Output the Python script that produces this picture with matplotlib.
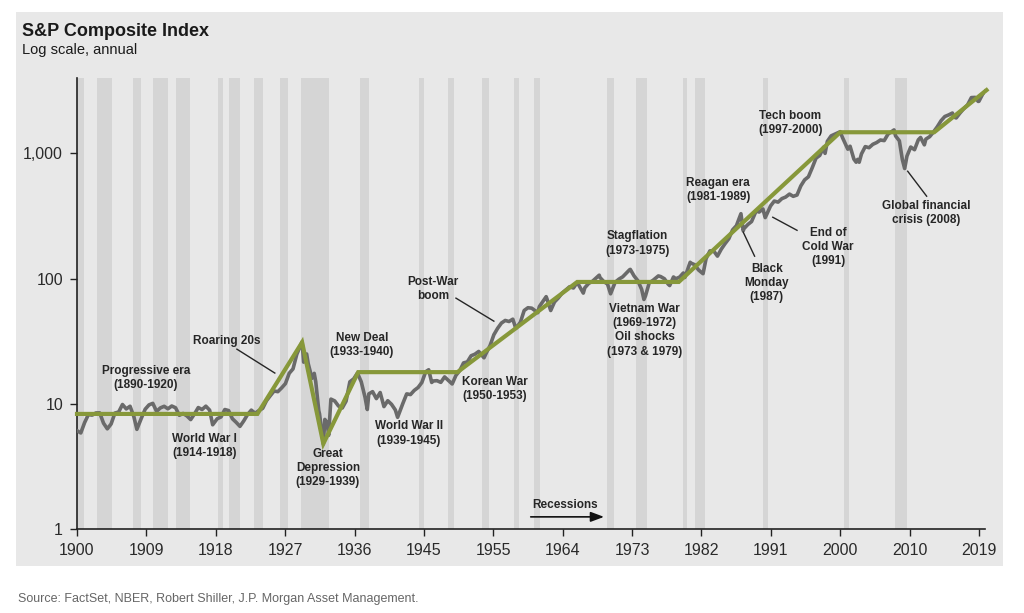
import numpy as np
import matplotlib
matplotlib.use("Agg")
import matplotlib.pyplot as plt
from matplotlib.patches import Rectangle

# ---------------- data ----------------
years = [1900.0, 1900.5, 1901.0, 1901.5, 1902.0, 1902.5, 1903.0, 1903.5, 1904.0, 1904.5,
         1905.0, 1905.5, 1906.0, 1906.5, 1907.0, 1907.5, 1907.9, 1908.5, 1909.0, 1909.5,
         1910.0, 1910.5, 1911.0, 1911.5, 1912.0, 1912.5, 1913.0, 1913.5, 1914.0, 1914.5,
         1915.0, 1915.5, 1916.0, 1916.5, 1917.0, 1917.5, 1917.9, 1918.5, 1919.0, 1919.5,
         1920.0, 1920.5, 1921.0, 1921.5, 1922.0, 1922.5, 1923.0, 1923.5, 1924.0, 1924.5,
         1925.0, 1925.5, 1926.0, 1926.5, 1927.0, 1927.5, 1928.0, 1928.5, 1929.0, 1929.7,
         1929.9, 1930.3, 1930.5, 1931.0, 1931.3, 1931.5, 1931.9, 1932.0, 1932.5, 1932.7,
         1933.0, 1933.2, 1933.5, 1934.0, 1934.5, 1935.0, 1935.5, 1936.0, 1936.5, 1937.0,
         1937.5, 1938.0, 1938.3, 1938.5, 1939.0, 1939.5, 1940.0, 1940.5, 1941.0, 1941.5,
         1942.0, 1942.3, 1943.0, 1943.5, 1944.0, 1944.5, 1945.0, 1945.5, 1946.0, 1946.4,
         1946.8, 1947.0, 1947.5, 1948.0, 1948.5, 1949.0, 1949.5, 1950.0, 1950.5, 1951.0,
         1951.5, 1952.0, 1952.5, 1953.0, 1953.7, 1954.0, 1954.5, 1955.0, 1955.5, 1956.0,
         1956.5, 1957.0, 1957.5, 1957.9, 1958.5, 1959.0, 1959.5, 1960.0, 1960.8, 1961.0,
         1961.9, 1962.0, 1962.5, 1963.0, 1963.5, 1964.0, 1964.5, 1965.0, 1965.5, 1966.0,
         1966.8, 1967.0, 1967.5, 1968.0, 1968.9, 1969.0, 1969.5, 1970.0, 1970.4, 1971.0,
         1971.5, 1972.0, 1972.9, 1973.0, 1973.5, 1974.0, 1974.5, 1974.8, 1975.0, 1975.5,
         1976.0, 1976.7, 1977.0, 1977.5, 1978.0, 1978.2, 1978.7, 1979.0, 1979.5, 1980.0,
         1980.2, 1980.9, 1981.0, 1981.5, 1982.0, 1982.6, 1983.0, 1983.5, 1984.0, 1984.5,
         1985.0, 1985.5, 1986.0, 1986.5, 1987.0, 1987.6, 1987.9, 1988.0, 1988.5, 1989.0,
         1989.6, 1990.0, 1990.5, 1990.8, 1991.0, 1991.5, 1992.0, 1992.5, 1993.0, 1993.5,
         1994.0, 1994.5, 1995.0, 1995.5, 1996.0, 1996.5, 1997.0, 1997.5, 1998.0, 1998.5,
         1998.7, 1999.0, 1999.5, 2000.0, 2000.7, 2001.0, 2001.7, 2002.0, 2002.5, 2002.8,
         2003.0, 2003.2, 2003.5, 2004.0, 2004.5, 2005.0, 2005.5, 2006.0, 2006.5, 2007.0,
         2007.8, 2008.0, 2008.5, 2008.9, 2009.2, 2009.5, 2010.0, 2010.5, 2011.0, 2011.3,
         2011.8, 2012.0, 2012.5, 2013.0, 2013.5, 2014.0, 2014.5, 2015.0, 2015.5, 2015.7,
         2016.0, 2016.5, 2017.0, 2017.5, 2018.0, 2018.5, 2018.9, 2019.0, 2019.5, 2019.9]
index_values = [6.10, 5.85, 7.07, 8.20, 8.12, 8.45, 8.46, 7.00, 6.31, 6.90,
                8.43, 8.60, 9.87, 9.10, 9.56, 7.90, 6.25, 7.70, 9.06, 9.80,
                10.08, 8.70, 9.27, 9.55, 9.12, 9.60, 9.30, 8.10, 8.37, 8.00,
                7.48, 8.30, 9.33, 9.00, 9.57, 8.90, 6.80, 7.60, 7.85, 9.00,
                8.83, 7.60, 7.11, 6.60, 7.30, 8.20, 8.90, 8.40, 8.83, 9.20,
                10.58, 11.60, 12.65, 12.50, 13.40, 14.50, 17.53, 19.00, 24.86, 31.30,
                21.50, 25.00, 21.00, 15.98, 17.50, 15.00, 8.80, 8.30, 4.77, 7.50,
                7.09, 5.60, 10.90, 10.54, 9.60, 9.26, 10.50, 14.98, 15.80, 17.59,
                15.00, 11.30, 9.00, 12.00, 12.50, 11.00, 12.30, 9.50, 10.58, 9.90,
                8.93, 7.80, 10.09, 12.00, 11.85, 12.80, 13.49, 14.80, 18.02, 18.70,
                14.80, 15.21, 15.30, 14.83, 16.40, 15.36, 14.40, 16.88, 18.40, 21.21,
                21.60, 24.19, 24.90, 26.18, 23.30, 25.46, 29.20, 35.60, 40.10, 44.15,
                46.30, 45.43, 47.40, 40.00, 44.80, 55.62, 58.50, 58.03, 53.40, 59.72,
                71.70, 69.07, 55.60, 65.06, 70.00, 76.45, 81.10, 86.12, 84.10, 93.32,
                76.60, 84.45, 91.40, 95.04, 106.50, 102.04, 94.70, 90.31, 75.60, 93.49,
                99.00, 103.30, 117.50, 118.42, 105.00, 96.11, 82.00, 68.12, 72.56, 92.50,
                96.86, 105.00, 103.81, 99.70, 90.25, 88.00, 103.00, 99.71, 102.70, 110.87,
                102.10, 135.00, 132.97, 129.10, 117.28, 109.40, 144.27, 166.40, 166.39, 151.10,
                171.61, 190.00, 208.19, 245.00, 264.51, 329.80, 241.00, 250.48, 270.00, 285.40,
                346.60, 339.97, 360.00, 307.00, 325.49, 380.00, 416.08, 408.00, 435.23, 448.00,
                472.99, 454.00, 465.25, 550.00, 614.42, 650.00, 766.22, 915.00, 963.36, 1120.00,
                1000.00, 1248.77, 1380.00, 1425.59, 1490.00, 1335.63, 1080.00, 1140.21, 900.00, 850.00,
                895.84, 850.00, 990.00, 1132.52, 1110.00, 1181.41, 1220.00, 1278.72, 1265.00, 1424.16,
                1540.00, 1378.76, 1260.00, 890.00, 757.00, 950.00, 1123.58, 1070.00, 1282.62, 1340.00,
                1170.00, 1300.58, 1360.00, 1480.40, 1630.00, 1822.36, 1970.00, 2028.18, 2100.00, 1950.00,
                1918.60, 2100.00, 2275.12, 2440.00, 2789.80, 2800.00, 2600.00, 2607.39, 2980.00, 3176.75]

trend_years = [1900.0, 1923.8, 1929.7, 1932.5, 1937.1, 1950.2, 1966.0, 1979.4, 2000.7, 2013.1, 2020.0]
trend_values = [8.3, 8.3, 31.0, 4.8, 17.9, 17.9, 94.0, 94.0, 1475.0, 1475.0, 3200.0]

recession_starts = [1899.5, 1902.7, 1907.4, 1910.0, 1913.0, 1918.6, 1920.0, 1923.4, 1926.8, 1929.6,
                    1937.4, 1945.1, 1948.9, 1953.5, 1957.6, 1960.3, 1969.9, 1973.8, 1980.0, 1981.5,
                    1990.5, 2001.2, 2007.9]
recession_ends = [1900.9, 1904.6, 1908.5, 1912.0, 1914.9, 1919.2, 1921.5, 1924.5, 1927.9, 1933.2,
                  1938.5, 1945.8, 1949.8, 1954.4, 1958.3, 1961.1, 1970.9, 1975.2, 1980.5, 1982.9,
                  1991.2, 2001.9, 2009.5]

x_tick_labels = ["1900", "1909", "1918", "1927", "1936", "1945", "1955", "1964",
                 "1973", "1982", "1991", "2000", "2010", "2019"]
y_tick_values = [1, 10, 100, 1000]
y_tick_labels = ["1", "10", "100", "1,000"]

# annotations: (text, year, value)
labels = [
    ("Progressive era\n(1890-1920)", 1909.1, 16.0),
    ("Roaring 20s", 1919.8, 31.7),
    ("New Deal\n(1933-1940)", 1937.6, 29.4),
    ("World War I\n(1914-1918)", 1916.8, 4.6),
    ("Great\nDepression\n(1929-1939)", 1933.1, 3.07),
    ("World War II\n(1939-1945)", 1943.8, 5.8),
    ("Korean War\n(1950-1953)", 1955.1, 13.1),
    ("Post-War\nboom", 1947.0, 82.3),
    ("Stagflation\n(1973-1975)", 1973.9, 191.0),
    ("Vietnam War\n(1969-1972)\nOil shocks\n(1973 & 1979)", 1974.9, 38.7),
    ("Reagan era\n(1981-1989)", 1984.6, 508.0),
    ("Tech boom\n(1997-2000)", 1994.1, 1740.0),
    ("Black\nMonday\n(1987)", 1991.0, 91.9),
    ("End of\nCold War\n(1991)", 1999.1, 178.0),
    ("Global financial\ncrisis (2008)", 2012.1, 333.0),
]
leaders = [
    ((1921.1, 27.3), (1926.1, 17.6)),
    ((1950.0, 69.8), (1955.0, 45.7)),
    ((1989.4, 151.0), (1987.9, 235.0)),
    ((1995.0, 243.0), (1991.8, 309.0)),
    ((2012.1, 455.0), (2009.6, 720.0)),
]

plt.rcParams["font.family"] = ["Liberation Sans", "DejaVu Sans"]

W, H = 1024, 613
fig = plt.figure(figsize=(W / 100, H / 100), dpi=100, facecolor="white")

# gray panel (behind everything)
fig.patches.append(Rectangle((16 / W, 1 - 566 / H), (1003 - 16) / W, (566 - 12) / H,
                             transform=fig.transFigure, facecolor="#e8e8e8",
                             edgecolor="none", zorder=-10))

ax_left, ax_right, ax_top, ax_bottom = 77, 985, 78, 529
ax = fig.add_axes([ax_left / W, 1 - ax_bottom / H, (ax_right - ax_left) / W, (ax_bottom - ax_top) / H])
ax.set_facecolor("none")
ax.set_zorder(1)

ax.set_yscale("log")
ax.set_xlim(1900, 2019.8)
ax.set_ylim(1, 4000)

for s, e in zip(recession_starts, recession_ends):
    ax.axvspan(max(s, 1900), e, color="#d5d5d5", lw=0, zorder=1)

ax.plot(years, index_values, color="#6a6a6a", lw=2.6, zorder=3, solid_joinstyle="round")
ax.plot(trend_years, trend_values, color="#87983a", lw=3.0, zorder=4, clip_on=False,
        solid_joinstyle="miter")

for s in ["top", "right"]:
    ax.spines[s].set_visible(False)
ax.spines["left"].set_color("#222222")
ax.spines["bottom"].set_color("#222222")
ax.spines["left"].set_linewidth(1.2)
ax.spines["bottom"].set_linewidth(1.2)

xt = np.linspace(1900, 2019, len(x_tick_labels))
ax.set_xticks(xt)
ax.set_xticklabels(x_tick_labels, fontsize=11.5, color="#2a2a2a")
ax.set_yticks(y_tick_values)
ax.set_yticklabels(y_tick_labels, fontsize=11.5, color="#2a2a2a")
ax.yaxis.set_minor_locator(matplotlib.ticker.NullLocator())
ax.tick_params(axis="both", direction="out", length=5, width=1, color="#222222")
ax.tick_params(axis="x", pad=5)
ax.tick_params(axis="y", pad=5)

for txt, x, y in labels:
    ax.text(x, y, txt, ha="center", va="center", fontsize=8.5, fontweight="bold",
            color="#262626", linespacing=1.25, zorder=5)
for (x0, y0), (x1, y1) in leaders:
    ax.plot([x0, x1], [y0, y1], color="#262626", lw=1.0, zorder=5)

ax.text(1964.4, 1.55, "Recessions", ha="center", va="center", fontsize=8.5,
        fontweight="bold", color="#262626", zorder=5)
ax.annotate("", xy=(1969.9, 1.25), xytext=(1959.5, 1.25),
            arrowprops=dict(arrowstyle="-|>,head_length=0.8,head_width=0.3",
                            color="#111111", lw=1.2), zorder=5)

fig.text(22 / W, 1 - 32 / H, "S&P Composite Index", fontsize=13, fontweight="bold",
         color="#1a1a1a", va="center", ha="left")
fig.text(22 / W, 1 - 50 / H, "Log scale, annual", fontsize=10.5, color="#1a1a1a",
         va="center", ha="left")
fig.text(18 / W, 1 - 599 / H, "Source: FactSet, NBER, Robert Shiller, J.P. Morgan Asset Management.",
         fontsize=9, color="#666666", va="center", ha="left")

fig.savefig("out.png", dpi=100, facecolor="white")
